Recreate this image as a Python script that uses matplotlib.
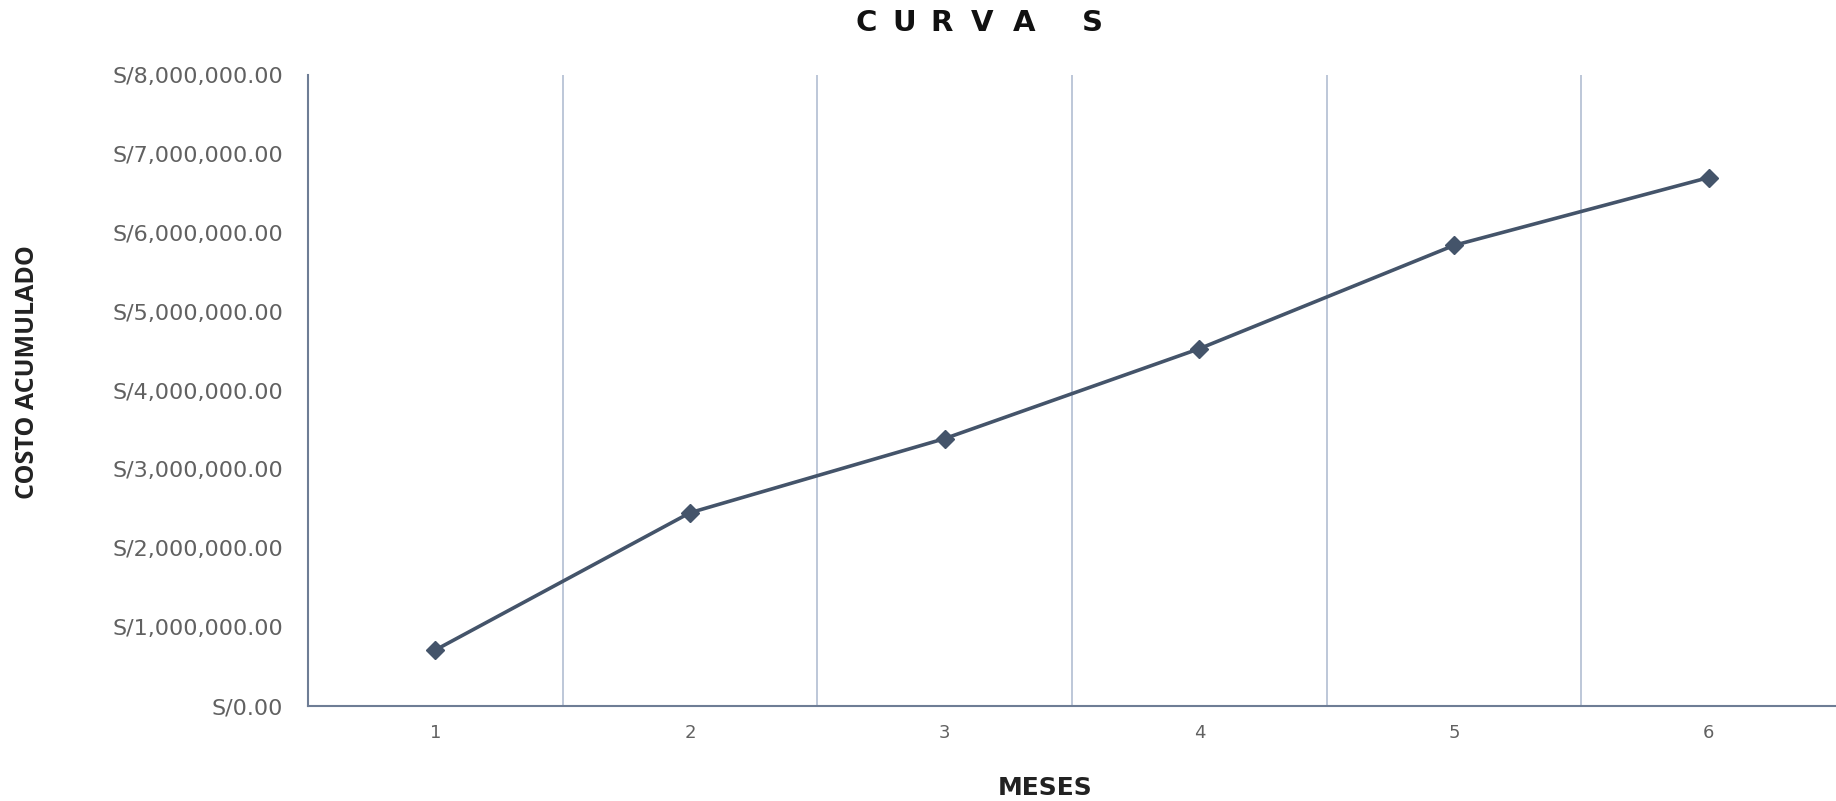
import matplotlib
matplotlib.use("Agg")
import matplotlib.pyplot as plt
from matplotlib.ticker import FuncFormatter, MultipleLocator

# Monthly cumulative cost (soles)
meses = [1, 2, 3, 4, 5, 6]
costo_acumulado = [710000, 2450000, 3390000, 4530000, 5840000, 6700000]

titulo = "CURVA S"
etiqueta_x = "MESES"
etiqueta_y = "COSTO ACUMULADO"

LINE = "#44546A"
GRID = "#B7C3D6"
AXIS = "#6E7D95"
TICK = "#616161"

plt.rcParams["font.family"] = ["DejaVu Sans"]

W, H = 1836, 801
fig = plt.figure(figsize=(W / 100, H / 100), dpi=100)
ax = fig.add_axes([308 / W, 1 - 706 / H, (W - 308) / W, (706 - 75) / H])

ax.plot(meses, costo_acumulado, color=LINE, lw=2.6, marker="D", ms=9,
        markerfacecolor=LINE, markeredgecolor=LINE, zorder=3)

ax.set_xlim(0.5, 6.5)
ax.set_ylim(0, 8_000_000)
ax.yaxis.set_major_locator(MultipleLocator(1_000_000))
ax.yaxis.set_major_formatter(FuncFormatter(lambda v, _: f"S/{v:,.2f}"))
ax.set_xticks(meses)
ax.set_xticklabels([str(m) for m in meses])

# vertical separators between months
ax.set_xticks([m + 0.5 for m in meses[:-1]], minor=True)
ax.grid(True, which="minor", axis="x", color=GRID, lw=1.3)
ax.tick_params(which="both", length=0)
ax.tick_params(axis="y", labelsize=16, labelcolor=TICK, pad=18)
ax.tick_params(axis="x", labelsize=13, labelcolor=TICK, pad=13)

for side in ("top", "right"):
    ax.spines[side].set_visible(False)
for side in ("left", "bottom"):
    ax.spines[side].set_color(AXIS)
    ax.spines[side].set_linewidth(1.5)

# letter-spaced title
centros = [866, 904, 942, 982, 1024, None, 1092]
for ch, cx in zip(titulo, centros):
    if cx is None:
        continue
    fig.text(cx / W, 1 - 23 / H, ch, ha="center", va="center",
             fontsize=21, fontweight="bold", color="#111111")

fig.text(1045 / W, 1 - 788 / H, etiqueta_x, ha="center", va="center",
         fontsize=18, fontweight="bold", color="#222222")
fig.text(28 / W, 1 - 372 / H, etiqueta_y, ha="center", va="center",
         rotation=90, fontsize=18, fontweight="bold", color="#222222",
         family=["Open Sans", "DejaVu Sans"])

fig.savefig("out.png", dpi=100, facecolor="white")
